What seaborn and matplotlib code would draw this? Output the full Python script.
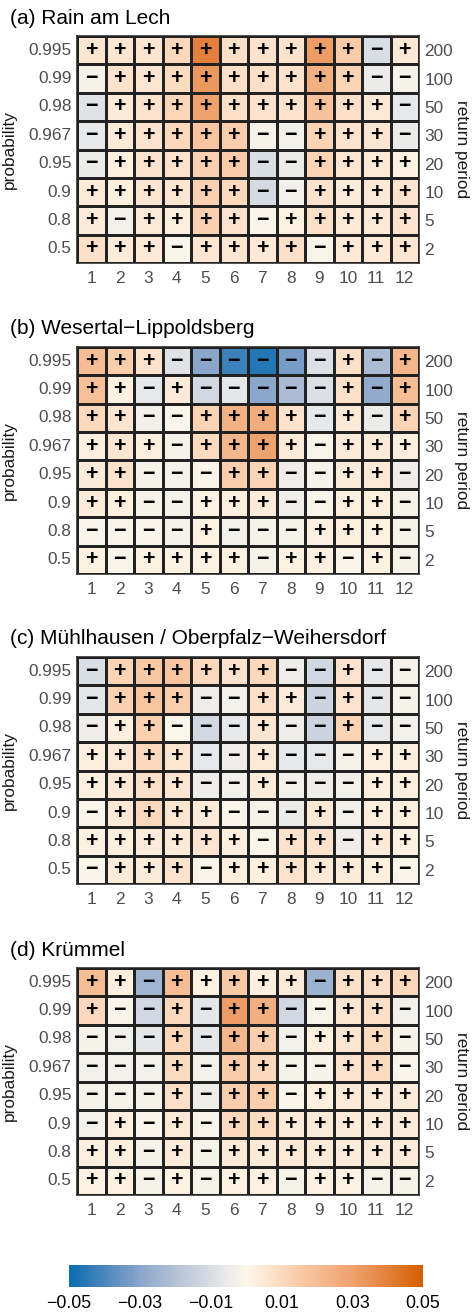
import numpy as np
import pandas as pd
import matplotlib
matplotlib.use("Agg")
import matplotlib.pyplot as plt
from matplotlib.colors import LinearSegmentedColormap, Normalize
from matplotlib.cm import ScalarMappable
import seaborn as sns

sns.set_theme(style="white")
plt.rcParams['font.family'] = ['Liberation Sans', 'DejaVu Sans']

months = [1, 2, 3, 4, 5, 6, 7, 8, 9, 10, 11, 12]
probabilities = ["0.995", "0.99", "0.98", "0.967", "0.95", "0.9", "0.8", "0.5"]
return_periods = ["200", "100", "50", "30", "20", "10", "5", "2"]
titles = ["(a) Rain am Lech", "(b) Wesertal\u2212Lippoldsberg",
          "(c) Mühlhausen / Oberpfalz\u2212Weihersdorf", "(d) Krümmel"]

rain_am_lech = [
    [0.006, 0.006, 0.006, 0.010, 0.040, 0.008, 0.007, 0.007, 0.032, 0.015, -0.010, 0.005],
    [-0.002, 0.007, 0.006, 0.009, 0.033, 0.008, 0.008, 0.007, 0.025, 0.012, -0.005, -0.002],
    [-0.008, 0.004, 0.007, 0.011, 0.030, 0.008, 0.007, 0.007, 0.018, 0.008, 0.005, -0.006],
    [-0.006, 0.004, 0.007, 0.010, 0.017, 0.014, -0.002, -0.003, 0.012, 0.007, 0.006, -0.005],
    [-0.005, 0.003, 0.007, 0.007, 0.013, 0.015, -0.010, -0.005, 0.012, 0.006, 0.005, 0.002],
    [0.005, 0.003, 0.006, 0.006, 0.013, 0.010, -0.011, -0.003, 0.007, 0.004, 0.005, 0.007],
    [0.004, -0.003, 0.005, 0.003, 0.013, 0.007, -0.001, 0.002, 0.008, 0.005, 0.005, 0.007],
    [0.008, 0.004, 0.005, -0.001, 0.006, 0.006, 0.005, 0.008, -0.001, 0.005, 0.005, 0.006],
]
wesertal = [
    [0.020, 0.014, 0.007, -0.008, -0.030, -0.042, -0.046, -0.033, -0.009, 0.008, -0.022, 0.022],
    [0.019, 0.002, -0.006, 0.004, -0.012, -0.007, -0.030, -0.022, -0.009, 0.008, -0.028, 0.020],
    [0.010, 0.006, -0.003, -0.001, 0.012, 0.024, 0.026, 0.007, -0.006, 0.005, -0.005, 0.012],
    [0.003, 0.006, 0.003, -0.002, 0.009, 0.022, 0.030, 0.004, -0.001, 0.004, 0.004, 0.003],
    [0.004, 0.007, -0.002, -0.002, -0.001, 0.014, 0.012, -0.004, -0.002, 0.004, 0.005, -0.004],
    [0.004, 0.003, -0.002, -0.002, 0.002, 0.003, 0.004, -0.004, -0.001, 0.003, 0.003, -0.002],
    [-0.001, -0.001, -0.001, -0.002, 0.002, -0.003, -0.002, -0.002, 0.002, 0.003, 0.002, -0.002],
    [0.002, -0.001, 0.002, 0.002, 0.002, 0.002, -0.002, 0.002, 0.002, -0.001, 0.002, -0.002],
]
muehlhausen = [
    [-0.010, 0.012, 0.016, 0.017, 0.010, 0.007, 0.010, -0.004, -0.012, 0.007, -0.006, -0.002],
    [-0.007, 0.013, 0.017, 0.014, -0.004, -0.003, 0.008, 0.004, -0.013, 0.007, -0.007, -0.002],
    [-0.004, 0.003, 0.013, -0.0005, -0.012, -0.006, 0.006, -0.004, -0.013, 0.012, -0.006, -0.003],
    [0.003, 0.005, 0.010, 0.006, -0.006, -0.004, 0.005, -0.006, -0.006, -0.002, 0.003, 0.003],
    [0.003, 0.005, 0.008, 0.006, -0.004, -0.003, 0.004, -0.003, -0.004, -0.003, 0.003, 0.003],
    [-0.001, 0.005, 0.010, 0.006, 0.004, -0.001, -0.002, -0.005, 0.005, -0.003, 0.003, 0.003],
    [0.002, 0.003, 0.004, 0.004, 0.006, 0.003, -0.001, 0.007, 0.007, -0.004, 0.004, 0.002],
    [-0.001, 0.004, 0.004, 0.007, -0.001, 0.003, 0.003, 0.007, 0.005, 0.004, 0.003, -0.001],
]
kruemmel = [
    [0.020, 0.003, -0.025, 0.020, 0.002, 0.016, 0.003, 0.004, -0.026, 0.008, 0.008, 0.010],
    [0.010, -0.001, -0.012, 0.010, -0.007, 0.032, 0.025, -0.012, -0.001, 0.006, 0.008, -0.003],
    [-0.002, -0.003, -0.007, 0.011, -0.007, 0.022, 0.014, -0.003, 0.003, 0.006, 0.009, -0.002],
    [-0.003, -0.003, -0.003, 0.009, -0.003, 0.015, 0.010, -0.002, -0.002, 0.007, 0.009, -0.001],
    [-0.002, -0.002, -0.002, 0.008, -0.004, 0.014, 0.014, -0.001, 0.003, 0.005, 0.004, 0.004],
    [-0.003, 0.003, -0.001, 0.005, -0.001, 0.010, 0.009, 0.004, 0.004, 0.004, 0.004, 0.004],
    [0.003, 0.003, -0.002, 0.004, -0.002, 0.005, 0.004, 0.005, 0.004, 0.004, 0.004, 0.004],
    [0.002, 0.002, -0.002, 0.002, -0.002, 0.002, 0.002, -0.002, 0.002, 0.002, -0.002, -0.002],
]
panels = [rain_am_lech, wesertal, muehlhausen, kruemmel]

vmin, vmax = -0.05, 0.05
nodes = [
    (-0.05, "#0a6db0"), (-0.04, "#4b86be"), (-0.03, "#8aa6cb"), (-0.02, "#b4c1d6"),
    (-0.01, "#d9dde4"), (-0.005, "#ebebea"), (0.0, "#fdf7ea"), (0.005, "#fde9d6"),
    (0.01, "#fcd9bd"), (0.02, "#f6bd94"), (0.03, "#eea26e"), (0.04, "#e4813c"),
    (0.05, "#d55e00"),
]
cmap = LinearSegmentedColormap.from_list(
    "blor", [((v - vmin) / (vmax - vmin), c) for v, c in nodes])

W, H = 472, 1314
fig = plt.figure(figsize=(W / 100, H / 100), dpi=100)
fig.patch.set_facecolor("white")

tops = [36, 347, 657, 968]
left, width, height = 77, 342, 227
grey = "#4d4d4d"
fs = 12.4

for top, vals, title in zip(tops, panels, titles):
    ax = fig.add_axes([left / W, 1 - (top + height) / H, width / W, height / H])
    df = pd.DataFrame(vals, index=probabilities, columns=months)
    signs = np.where(df.values > 0, "+", "\u2212")
    sns.heatmap(df, ax=ax, cmap=cmap, vmin=vmin, vmax=vmax, cbar=False,
                annot=signs, fmt="",
                annot_kws=dict(fontsize=15.5, color="black", fontweight="bold"),
                linewidths=0.9, linecolor="#222222")
    for s in ax.spines.values():
        s.set_visible(True)
        s.set_color("#222222")
        s.set_linewidth(1.1)
    ax.set_xlabel("")
    ax.set_ylabel("probability", fontsize=fs, color="#1a1a1a")
    ax.yaxis.set_label_coords((17 - left) / width, 0.5)
    ax.tick_params(axis="x", length=0, pad=5.5, labelsize=fs, labelcolor=grey)
    ax.tick_params(axis="y", length=0, pad=4, labelsize=fs, labelcolor=grey)
    ax.set_yticklabels(probabilities, rotation=0)
    ax.set_xticklabels([str(m) for m in months], rotation=0)

    ax2 = ax.twinx()
    ax2.set_ylim(ax.get_ylim())
    ax2.set_yticks(np.arange(len(return_periods)) + 0.5)
    ax2.set_yticklabels(return_periods)
    ax2.tick_params(axis="y", length=0, pad=4, labelsize=fs, labelcolor=grey)
    for s in ax2.spines.values():
        s.set_visible(False)
    ax2.grid(False)
    ax2.set_ylabel("return period", fontsize=fs, color="#1a1a1a", rotation=270,
                   va="center", ha="center")
    ax2.yaxis.set_label_coords((462 - left) / width, 0.5)

    fig.text(10 / W, 1 - (top - 18) / H, title, fontsize=15, color="black",
             ha="left", va="center")

cax = fig.add_axes([69 / W, 1 - 1287 / H, 354 / W, 22 / H])
sm = ScalarMappable(norm=Normalize(vmin, vmax), cmap=cmap)
cb = fig.colorbar(sm, cax=cax, orientation="horizontal")
cb.outline.set_visible(False)
ticks = [-0.05, -0.03, -0.01, 0.01, 0.03, 0.05]
cb.set_ticks(ticks)
cb.set_ticklabels([f"{t:.2f}".replace("-", "\u2212") for t in ticks])
cax.tick_params(axis="x", direction="in", color="white", length=4, width=1,
                top=True, bottom=True, labelsize=12.8, labelcolor="black", pad=6)

fig.savefig("out.png", dpi=100, facecolor="white")
